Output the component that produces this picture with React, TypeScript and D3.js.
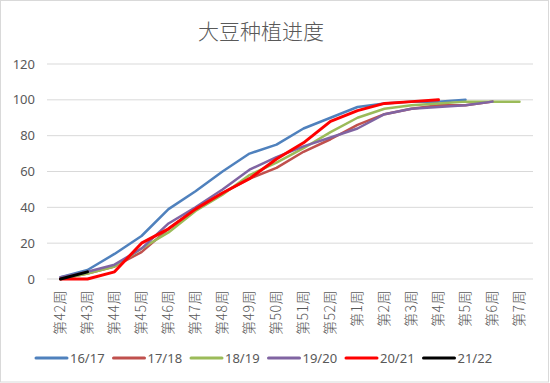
import React from "react";
import * as d3 from "d3";

const categories = ["第42周","第43周","第44周","第45周","第46周","第47周","第48周","第49周","第50周","第51周","第52周","第1周","第2周","第3周","第4周","第5周","第6周","第7周"];
const seriesNames = ["16/17","17/18","18/19","19/20","20/21","21/22"];
const s1617 = [1,5,14,24,39,49,60,70,75,84,90,96,98,99,99,100];
const s1718 = [0,3,7,15,28,39,48,56,62,71,78,86,92,95,97,97,99];
const s1819 = [0,3,7,17,26,38,47,58,65,73,82,90,95,97,98,99,99,99];
const s1920 = [1,4,8,17,31,40,50,61,68,74,79,84,92,95,96,97,99];
const s2021 = [0,0,4,20,28,39,48,56,67,76,88,94,98,99,100];
const s2122 = [0,4];
const yTicks = [0,20,40,60,80,100,120];
const colors = ["#4F81BD","#C0504D","#9BBB59","#8064A2","#FF0000","#000000"];
const widths = [2.5,2.5,2.5,2.5,3,3];

const allSeries = [s1617, s1718, s1819, s1920, s2021, s2122];

export default function App() {
  const W = 550, H = 383;
  const left = 47, right = 533, top = 64, bottom = 279;
  const x = d3.scaleBand().domain(categories).range([left, right]);
  const y = d3.scaleLinear().domain([0, 120]).range([bottom, top]);
  const cx = (i: number) => (x(categories[i]) as number) + x.bandwidth() / 2;
  const line = d3.line<number>().x((_, i) => cx(i)).y(d => y(d));
  const textColor = "#595959";
  const font = "'Noto Sans', 'Noto Sans CJK SC', sans-serif";
  const legendStart = 36, legendStep = 77.5, legendY = 358;
  return (
    <svg width={W} height={H} style={{ position: "absolute", left: 0, top: 0, background: "#fff" }} fontFamily={font}>
      <rect x={0.5} y={0.5} width={W - 2} height={H - 1.5} fill="#fff" stroke="#d9d9d9" />
      <text x={261} y={39} textAnchor="middle" fontSize={21} fill={textColor} fontFamily="'Noto Sans CJK SC', sans-serif" fontWeight={300}>大豆种植进度</text>
      {yTicks.map(t => (
        <g key={t}>
          <line x1={left} x2={right} y1={y(t)} y2={y(t)} stroke="#d9d9d9" strokeWidth={1} />
          <text x={35} y={y(t)} dy="0.35em" textAnchor="end" fontSize={13} fill={textColor}>{t}</text>
        </g>
      ))}
      {categories.map((c, i) => (
        <text key={c} transform={`translate(${cx(i)},290) rotate(-90)`} textAnchor="end" dy="0.35em" fontSize={14} letterSpacing={0.5} fill={textColor} fontFamily="'Noto Sans CJK SC', sans-serif" fontWeight={300}>{c}</text>
      ))}
      {allSeries.map((s, k) => (
        <path key={k} d={line(s) || ""} fill="none" stroke={colors[k]} strokeWidth={widths[k]} strokeLinejoin="round" strokeLinecap="round" />
      ))}
      {seriesNames.map((n, k) => (
        <g key={n} transform={`translate(${legendStart + k * legendStep},${legendY})`}>
          <line x1={0} x2={31} y1={0} y2={0} stroke={colors[k]} strokeWidth={3} strokeLinecap="round" />
          <text x={34} y={0} dy="0.35em" fontSize={13} fill={textColor}>{n}</text>
        </g>
      ))}
    </svg>
  );
}
